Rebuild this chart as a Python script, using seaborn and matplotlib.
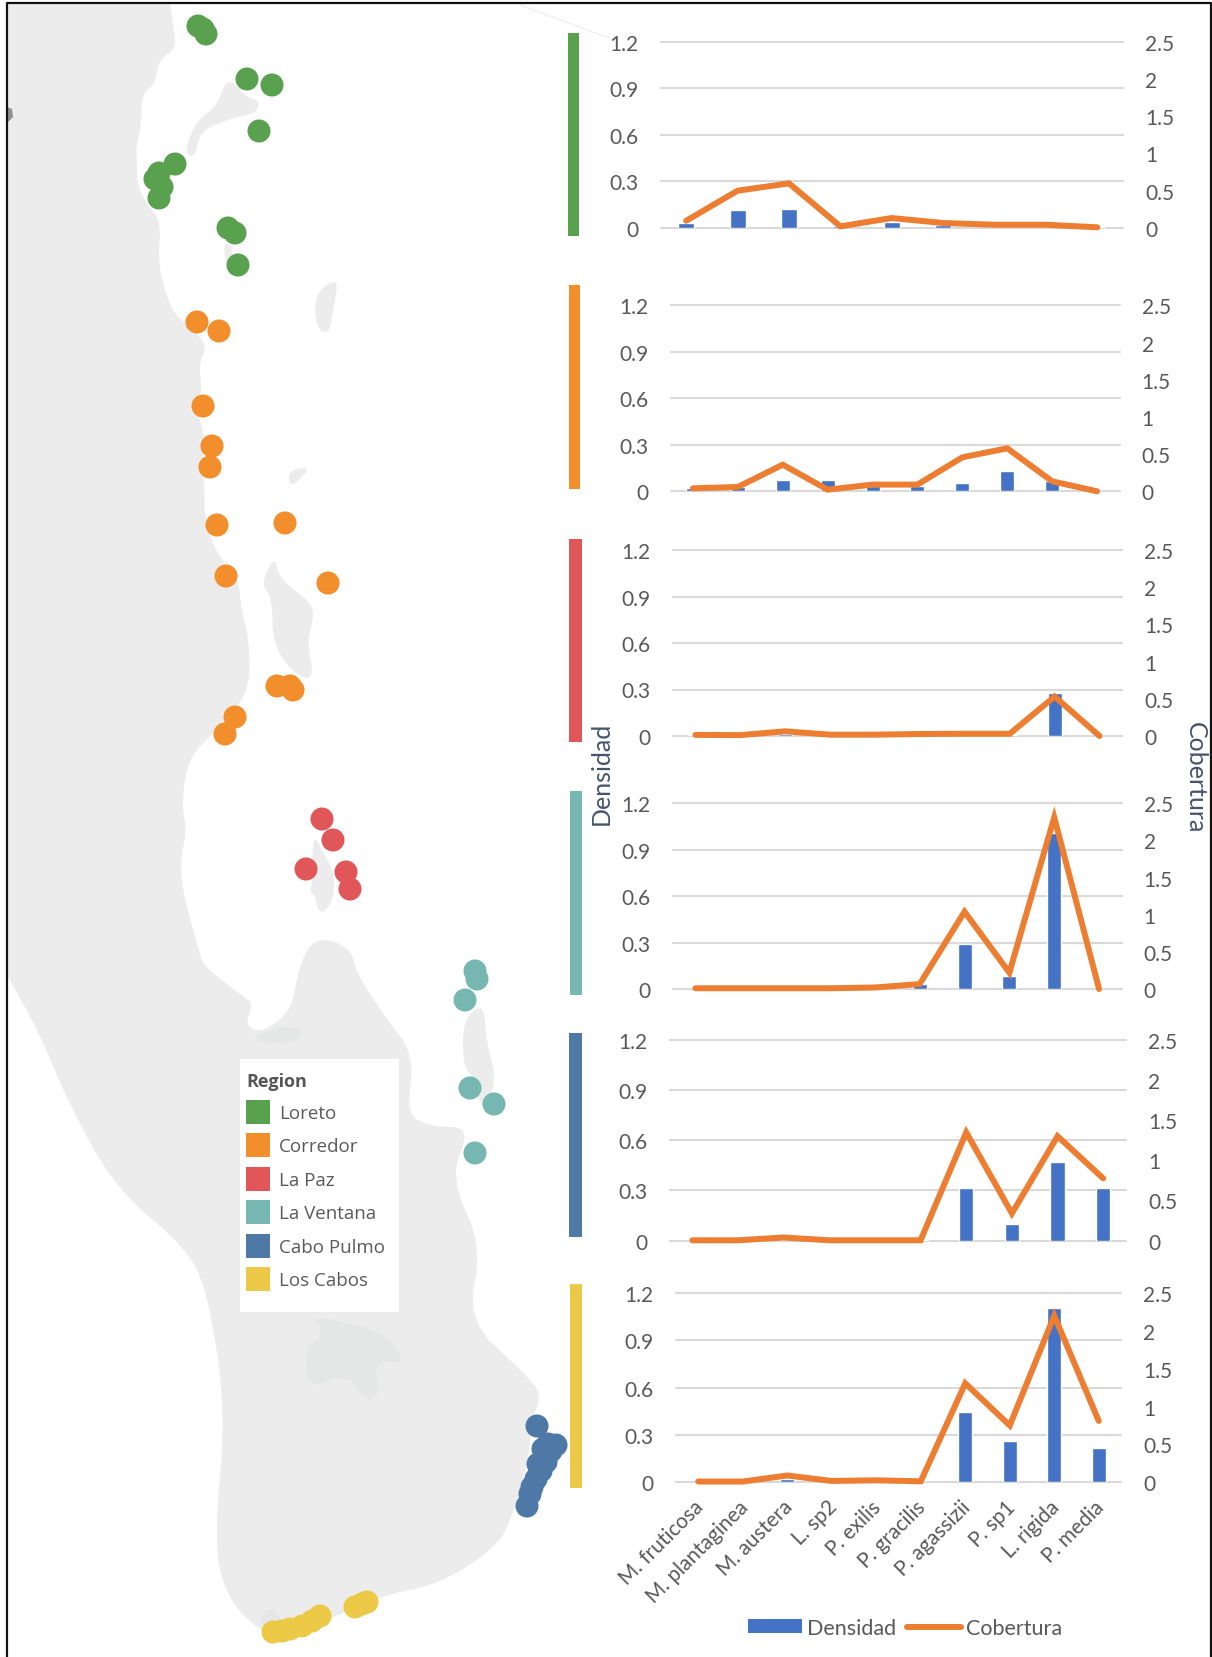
import numpy as np
import pandas as pd
import matplotlib
matplotlib.use("Agg")
import matplotlib.pyplot as plt
from matplotlib.patches import Patch, Rectangle
from matplotlib.lines import Line2D
from matplotlib.transforms import ScaledTranslation
import seaborn as sns

W, H = 1212, 1658

# ---------- data ----------
species = ["M. fruticosa", "M. plantaginea", "M. austera", "L. sp2", "P. exilis",
           "P. gracilis", "P. agassizii", "P. sp1", "L. rigida", "P. media"]
regions = ["Loreto", "Corredor", "La Paz", "La Ventana", "Cabo Pulmo", "Los Cabos"]
region_colors = ["#59a14f", "#f28e2b", "#e15759", "#76b7b2", "#4e79a7", "#edc948"]

dens_loreto = [0.03, 0.112, 0.123, 0.013, 0.035, 0.017, 0.0, 0.0, 0.005]
cob_loreto = [0.094, 0.497, 0.596, 0.018, 0.13, 0.063, 0.04, 0.04, 0.005]
dens_corredor = [0.024, 0.026, 0.071, 0.071, 0.032, 0.032, 0.056, 0.129, 0.065, 0.0]
cob_corredor = [0.04, 0.058, 0.358, 0.022, 0.09, 0.09, 0.457, 0.578, 0.134, 0.0]
dens_lapaz = [0.005, 0.0, 0.01, 0.0, 0.0, 0.0, 0.0, 0.005, 0.277, 0.0]
cob_lapaz = [0.015, 0.012, 0.063, 0.018, 0.018, 0.027, 0.03, 0.03, 0.53, 0.0]
dens_ventana = [0.0, 0.0, 0.0, 0.0, 0.0, 0.03, 0.29, 0.086, 1.01, 0.0]
cob_ventana = [0.01, 0.01, 0.01, 0.01, 0.02, 0.067, 1.04, 0.22, 2.31, 0.0]
dens_pulmo = [0.0, 0.0, 0.0, 0.0, 0.0, 0.005, 0.312, 0.1, 0.47, 0.312]
cob_pulmo = [0.005, 0.005, 0.04, 0.005, 0.005, 0.005, 1.347, 0.34, 1.30, 0.775]
dens_cabos = [0.0, 0.0, 0.02, 0.0, 0.0, 0.0, 0.448, 0.262, 1.103, 0.215]
cob_cabos = [0.01, 0.01, 0.09, 0.018, 0.026, 0.013, 1.307, 0.75, 2.2, 0.81]
densidad = [dens_loreto, dens_corredor, dens_lapaz, dens_ventana, dens_pulmo, dens_cabos]
cobertura = [cob_loreto, cob_corredor, cob_lapaz, cob_ventana, cob_pulmo, cob_cabos]
dens_ticks = [0, 0.3, 0.6, 0.9, 1.2]
cob_ticks = [0, 0.5, 1, 1.5, 2, 2.5]
cob_tick_labels = ["0", "0.5", "1", "1.5", "2", "2.5"]
dens_tick_labels = ["0", "0.3", "0.6", "0.9", "1.2"]

# survey sites (map pixel coordinates)
sites_loreto = [(198, 27), (203, 30), (206, 35), (247, 80), (272, 86), (259, 132), (175, 165),
                (159, 174), (155, 180), (162, 188), (159, 199), (228, 229), (235, 234), (238, 266)]
sites_corredor = [(197, 323), (219, 332), (203, 407), (212, 447), (210, 468), (217, 526), (285, 524),
                  (226, 577), (328, 584), (277, 687), (290, 687), (293, 691), (235, 718), (225, 735)]
sites_lapaz = [(322, 820), (333, 841), (306, 870), (346, 873), (350, 890)]
sites_ventana = [(475, 972), (477, 980), (465, 1001), (470, 1089), (494, 1105), (475, 1154)]
sites_pulmo = [(537, 1427), (548, 1445), (556, 1446), (543, 1450), (551, 1452), (545, 1458),
               (538, 1465), (546, 1463), (541, 1472), (536, 1480), (532, 1488), (530, 1495),
               (527, 1507)]
sites_cabos = [(273, 1633), (282, 1632), (290, 1630), (302, 1627), (312, 1622), (320, 1617),
               (355, 1608), (362, 1605), (367, 1603)]
sites = [sites_loreto, sites_corredor, sites_lapaz, sites_ventana, sites_pulmo, sites_cabos]

# land outlines (map pixel coordinates)
mainland = [(170, 5), (175, 37), (175, 50), (159, 61), (155, 85), (142, 95), (141, 127), (136, 148),
            (137, 164), (137, 185), (146, 204), (161, 222), (158, 265), (168, 302), (177, 318),
            (195, 331), (207, 349), (199, 363), (202, 392), (196, 408), (204, 434), (202, 466),
            (205, 498), (204, 513), (214, 551), (239, 582), (241, 609), (249, 640), (250, 688),
            (229, 720), (200, 746), (186, 768), (182, 810), (187, 830), (180, 862), (184, 899),
            (199, 951), (203, 967), (245, 999), (253, 1004), (245, 1028), (264, 1033), (291, 1012),
            (298, 973), (310, 943), (330, 940), (352, 952), (356, 973), (383, 1015), (415, 1057),
            (406, 1115), (432, 1128), (471, 1128), (450, 1178), (482, 1247), (467, 1321),
            (524, 1374), (542, 1395), (532, 1421), (528, 1464), (513, 1516), (497, 1548),
            (440, 1585), (383, 1596), (325, 1622), (279, 1638), (253, 1627), (226, 1596),
            (214, 1543), (226, 1411), (207, 1289), (184, 1247), (115, 1189), (69, 1105),
            (38, 1031), (8, 978)]
mainland_frame_corners = [(8, 978), (8, 5), (170, 5)]
islands = [
    [(225, 82), (236, 85), (246, 98), (259, 101), (257, 114), (232, 119), (200, 132), (195, 159),
     (184, 154), (196, 122), (218, 106)],
    [(223, 244), (232, 246), (232, 270), (227, 270)],
    [(336, 281), (337, 291), (332, 318), (329, 334), (318, 331), (314, 307), (321, 289)],
    [(289, 471), (311, 468), (296, 484), (289, 486)],
    [(275, 556), (279, 580), (311, 603), (314, 619), (307, 641), (314, 678), (300, 680), (273, 648),
     (272, 598), (261, 585)],
    [(315, 837), (322, 852), (333, 870), (335, 893), (327, 912), (318, 913), (315, 897), (310, 893),
     (313, 880), (312, 853)],
    [(484, 1004), (486, 1041), (497, 1083), (482, 1115), (474, 1078), (463, 1068), (463, 1020)],
]
uplands = [
    [(310, 1316), (383, 1332), (406, 1363), (375, 1363), (379, 1395), (367, 1403), (344, 1374),
     (310, 1390), (304, 1353), (325, 1332)],
    [(249, 1036), (298, 1025), (302, 1041), (268, 1046)],
    [(258, 1627), (270, 1605), (285, 1625), (279, 1638)],
]

# ---------- layout (pixels) ----------
panel_rects = [(660.5, 42.7, 1123, 228.7), (670.5, 306.3, 1119.5, 492.3), (673, 551, 1122, 737),
               (673, 804.3, 1121.5, 990), (669.5, 1040.7, 1126, 1241.7), (676, 1294, 1121, 1483.3)]
strip_rects = [(567.5, 34, 578.5, 237), (568.5, 286, 580, 490), (568.5, 540, 581.5, 743),
               (569.5, 792, 581.5, 996), (568.5, 1034, 581.5, 1238), (569.5, 1285, 581.5, 1489)]
tick_color = "#595959"
bar_color = "#4472c4"
line_color = "#ed7d31"
grid_color = "#d9d9d9"
title_color = "#44546a"
FONT = ["Lato", "DejaVu Sans"]

sns.set_theme(style="white")
plt.rcParams["font.family"] = FONT

fig = plt.figure(figsize=(W / 100, H / 100), dpi=100, facecolor="white")


def axes_px(x0, y0, x1, y1, **kw):
    return fig.add_axes([x0 / W, 1 - y1 / H, (x1 - x0) / W, (y1 - y0) / H], **kw)


def rounded(outline, closed=True, passes=2):
    """Corner-cut a hand-traced outline so the coast is not angular."""
    pts = np.asarray(outline, float)
    for _ in range(passes):
        nxt = np.roll(pts, -1, axis=0) if closed else pts[1:]
        cur = pts if closed else pts[:-1]
        q = 0.75 * cur + 0.25 * nxt
        r = 0.25 * cur + 0.75 * nxt
        cut = np.empty((2 * len(cur), 2))
        cut[0::2] = q
        cut[1::2] = r
        pts = cut if closed else np.vstack([pts[0], cut, pts[-1]])
    return pts


# ---------- map ----------
m = axes_px(0, 0, W, H, zorder=0)
m.set_xlim(0, W)
m.set_ylim(H, 0)
m.axis("off")
coast = rounded(mainland, closed=False)
land = np.vstack([coast, np.asarray(mainland_frame_corners, float)])
m.fill(land[:, 0], land[:, 1], color="#ececec", lw=0)
for poly in islands:
    p = rounded(poly)
    m.fill(p[:, 0], p[:, 1], color="#ececec", lw=0)
for poly in uplands:
    p = rounded(poly, passes=1)
    m.fill(p[:, 0], p[:, 1], color="#e4e7e5", lw=0)

rows = [(x, y, r) for r, pts in zip(regions, sites) for x, y in pts]
df_sites = pd.DataFrame(rows, columns=["x", "y", "Region"])
sns.scatterplot(data=df_sites, x="x", y="y", hue="Region", hue_order=regions,
                palette=region_colors, s=275, edgecolor="none", linewidth=0,
                legend=False, ax=m, zorder=3)
m.set_xlim(0, W)
m.set_ylim(H, 0)
m.set_xlabel("")
m.set_ylabel("")

for (x0, y0, x1, y1), c in zip(strip_rects, region_colors):
    m.add_patch(Rectangle((x0, y0), x1 - x0, y1 - y0, color=c, lw=0, zorder=2))

# picture frame and stray map line
m.plot([7, 7, 1211, 1211], [H, 4, 4, H], color="#111111", lw=1.6, zorder=5)
m.plot([520, 609], [6, 39], color="#e6e6e6", lw=0.9, ls=(0, (2, 1)), zorder=1)
m.fill([7, 12, 13, 7], [108, 110, 118, 124], color="#8f8f8f", lw=0, zorder=1)

# legend card
m.add_patch(Rectangle((240, 1060), 159, 253, facecolor="white", edgecolor="none", zorder=6))
handles = [Patch(facecolor=c, edgecolor="none", label=r) for r, c in zip(regions, region_colors)]
leg = m.legend(handles=handles, title="Region", loc="upper left",
               bbox_to_anchor=(246, 1073), bbox_transform=m.transData,
               frameon=False,
               prop={"family": "Open Sans", "size": 13.5},
               title_fontproperties={"family": "Open Sans", "size": 13, "weight": "bold"},
               handlelength=1.28, handleheight=1.592, handletextpad=0.48, labelspacing=0.51,
               borderpad=0, borderaxespad=0, alignment="left")
leg.set_zorder(7)
for t in leg.get_texts():
    t.set_color("#5a5a5a")
leg.get_title().set_color("#555555")

# ---------- panels ----------
for i, (rect, dens, cob) in enumerate(zip(panel_rects, densidad, cobertura)):
    ax = axes_px(*rect, zorder=2)
    ax.patch.set_alpha(0)
    cats = species[:len(dens)]
    df = pd.DataFrame({"Especie": cats, "Densidad": dens, "Cobertura": cob})
    sns.barplot(data=df, x="Especie", y="Densidad", order=cats, color=bar_color, saturation=1,
                width=0.313, ax=ax, zorder=2)
    ax.set_xlim(-0.5, len(cats) - 0.5)
    ax.set_ylim(0, 1.2)
    ax.set_yticks(dens_ticks, dens_tick_labels)
    ax.set_axisbelow(True)
    ax.grid(axis="y", color=grid_color, lw=1.5)
    ax.grid(axis="x", visible=False)
    ax.tick_params(axis="y", length=0, pad=16, labelsize=15, labelcolor=tick_color)
    ax.set_xlabel("")
    ax.set_ylabel("")
    for s in ax.spines.values():
        s.set_visible(False)
    for ln in ax.get_ygridlines():
        ln.set_clip_on(False)

    ax2 = ax.twinx()
    ax2.patch.set_alpha(0)
    sns.lineplot(data=df, x="Especie", y="Cobertura", sort=False, errorbar=None, color=line_color,
                 lw=4.3, ax=ax2, solid_capstyle="round", solid_joinstyle="miter", clip_on=False)
    ax2.set_ylim(0, 2.5)
    ax2.set_xlim(-0.5, len(cats) - 0.5)
    ax2.set_yticks(cob_ticks, cob_tick_labels)
    ax2.tick_params(axis="y", length=0, pad=16, labelsize=15, labelcolor=tick_color)
    ax2.grid(False)
    ax2.set_ylabel("")
    ax2.set_xlabel("")
    for s in ax2.spines.values():
        s.set_visible(False)

    if i == len(panel_rects) - 1:
        ax.set_xticks(range(len(cats)), cats)
        plt.setp(ax.get_xticklabels(), rotation=45, ha="right", rotation_mode="anchor",
                 fontsize=15, color=tick_color)
        ax.tick_params(axis="x", length=0, pad=10)
        shift = ScaledTranslation(-5 / 100, 0, fig.dpi_scale_trans)
        for lab in ax.get_xticklabels():
            lab.set_transform(lab.get_transform() + shift)
    else:
        ax.set_xticks([])
    ax2.tick_params(axis="x", length=0, labelbottom=False)

# ---------- shared titles and legend ----------
fig.text(601 / W, 1 - 773 / H, "Densidad", rotation=90, ha="center", va="center",
         fontsize=18, color=title_color)
fig.text(1195 / W, 1 - 778 / H, "Cobertura", rotation=-90, ha="center", va="center",
         fontsize=18, color=title_color)

leg_handles = [Patch(facecolor=bar_color, edgecolor="none", label="Densidad"),
               Line2D([0], [0], color=line_color, lw=4.3, solid_capstyle="round", label="Cobertura")]
bottom = fig.legend(handles=leg_handles, loc="center", bbox_to_anchor=(905 / W, 1 - 1629 / H), ncol=2,
                    frameon=False, fontsize=15.5, handlelength=2.5, handleheight=0.62,
                    handletextpad=0.25, columnspacing=0.5, labelcolor=tick_color)

fig.savefig("out.png", dpi=100)
